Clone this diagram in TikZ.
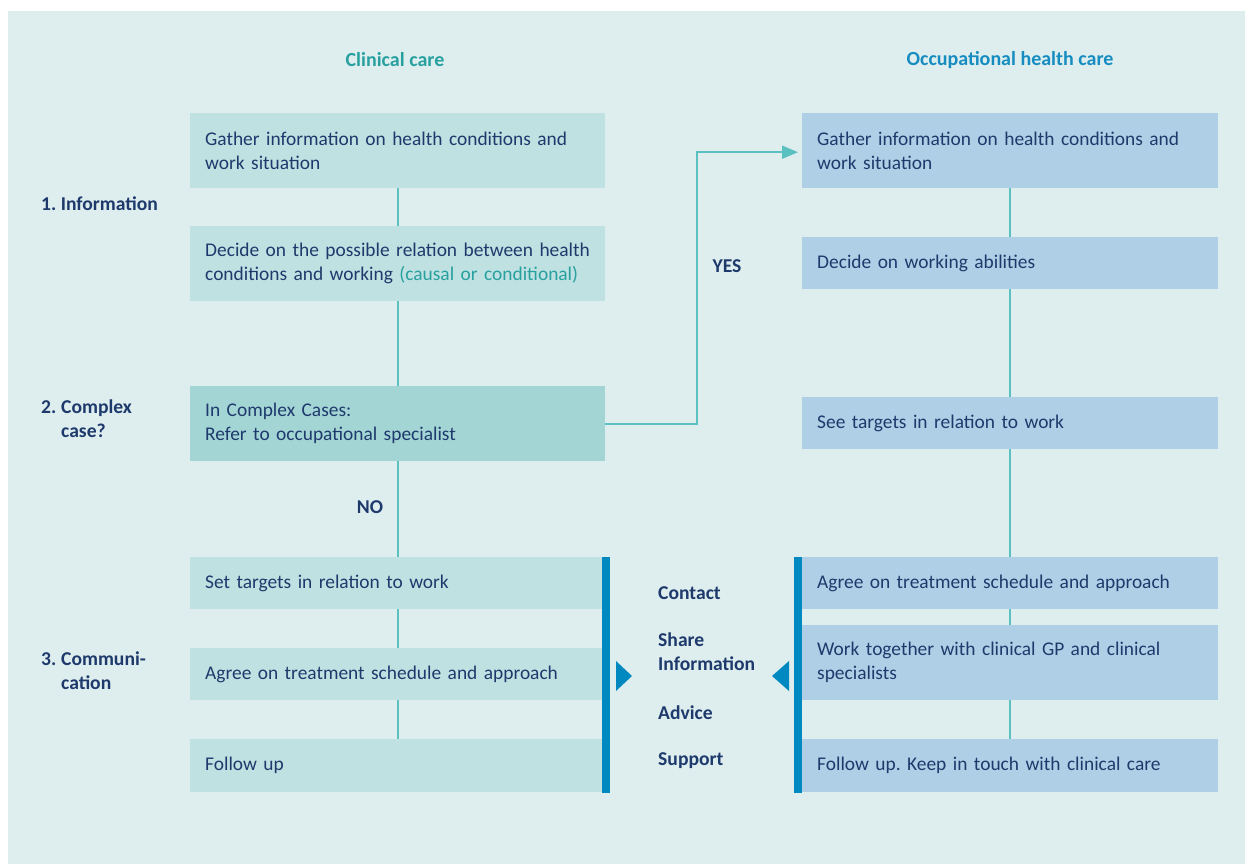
\documentclass[tikz,border=0pt]{standalone}
\usepackage{fontspec}
\setmainfont{Carlito}
\frenchspacing
\usetikzlibrary{arrows.meta}
\definecolor{panel}{RGB}{222,238,238}
\definecolor{lboxc}{RGB}{191,225,225}
\definecolor{cboxc}{RGB}{163,213,213}
\definecolor{rboxc}{RGB}{174,207,230}
\definecolor{txt}{RGB}{30,58,108}
\definecolor{teal}{RGB}{40,160,160}
\definecolor{ohblue}{RGB}{22,140,192}
\definecolor{barc}{RGB}{0,137,192}
\definecolor{connc}{RGB}{91,192,192}
\tikzset{
  box/.style={anchor=north west, inner xsep=15pt, inner ysep=0pt, align=left,
    font=\fontsize{19.4}{24}\selectfont, text=txt},
  lbox/.style={box, fill=lboxc, minimum width=415pt, text width=385pt},
  cbox/.style={box, fill=cboxc, minimum width=415pt, text width=385pt},
  rbox/.style={box, fill=rboxc, minimum width=416pt, text width=386pt},
  conn/.style={draw=connc, line width=2pt},
  lab/.style={font=\fontsize{19.6}{24}\selectfont\bfseries, text=txt, inner sep=0pt, align=left},
  head/.style={font=\fontsize{20}{24}\selectfont\bfseries, inner sep=0pt},
}
\begin{document}
\begin{tikzpicture}[x=1pt,y=-1pt]
\useasboundingbox (0,0) rectangle (1245,864);
\fill[panel] (8,11) rectangle (1245,864);

\node[head, text=teal] (hl) at (395,60) {Clinical care};
\node[head, text=ohblue] (hr) at (1010,60) {Occupational health care};

% left column
\node[lbox, minimum height=75pt] (l1) at (190,113) {Gather information on health conditions and\\work situation};
\node[lbox, minimum height=75pt] (l2) at (190,226) {Decide on the possible relation between health\\conditions and working {\color{teal}(causal or conditional)}};
\node[cbox, minimum height=75pt] (l3) at (190,386) {In Complex Cases:\\Refer to occupational specialist};
\node[lbox, minimum height=52pt] (l4) at (190,557) {Set targets in relation to work};
\node[lbox, minimum height=52pt] (l5) at (190,648) {Agree on treatment schedule and approach};
\node[lbox, minimum height=53pt] (l6) at (190,739) {Follow up};

% right column
\node[rbox, minimum height=75pt] (r1) at (802,113) {Gather information on health conditions and\\work situation};
\node[rbox, minimum height=52pt] (r2) at (802,237) {Decide on working abilities};
\node[rbox, minimum height=52pt] (r3) at (802,397) {See targets in relation to work};
\node[rbox, minimum height=52pt] (r4) at (802,557) {Agree on treatment schedule and approach};
\node[rbox, minimum height=75pt] (r5) at (802,625) {Work together with clinical GP and clinical\\specialists};
\node[rbox, minimum height=53pt] (r6) at (802,739) {Follow up. Keep in touch with clinical care};

% connectors
\draw[conn] (l1.south) -- (l2.north);
\draw[conn] (l2.south) -- (l3.north);
\draw[conn] (l3.south) -- (l4.north);
\draw[conn] (l4.south) -- (l5.north);
\draw[conn] (l5.south) -- (l6.north);
\draw[conn] (r1.south) -- (r2.north);
\draw[conn] (r2.south) -- (r3.north);
\draw[conn] (r3.south) -- (r4.north);
\draw[conn] (r4.south) -- (r5.north);
\draw[conn] (r5.south) -- (r6.north);
\draw[conn, -{Triangle[length=16pt,width=13pt]}] (l3.east) -- ++(92,0) |- ([xshift=-4pt,yshift=-1.5pt]r1.west);

\node[lab] (yes) at (727,266) {YES};
\node[lab] (no) at (370,507) {NO};

% step labels
\node[lab, anchor=west] (s1) at (41,204) {1. Information};
\node[lab, anchor=west] (s2) at (41,419) {\makebox[20pt][l]{2.}Complex\\\hspace*{20pt}case?};
\node[lab, anchor=west] (s3) at (41,671) {\makebox[20pt][l]{3.}Communi-\\\hspace*{20pt}cation};

% communication bars and triangles
\fill[barc] (602,557) rectangle (610,793);
\fill[barc] (794,557) rectangle (802,793);
\fill[barc] (616,661) -- (632,676) -- (616,691) -- cycle;
\fill[barc] (789,661) -- (772,676) -- (789,691) -- cycle;

\node[lab, anchor=west] (m1) at (658,593) {Contact};
\node[lab, anchor=west] (m2) at (658,652) {Share\\Information};
\node[lab, anchor=west] (m3) at (658,713) {Advice};
\node[lab, anchor=west] (m4) at (658,761) {Support};
\end{tikzpicture}
\end{document}
